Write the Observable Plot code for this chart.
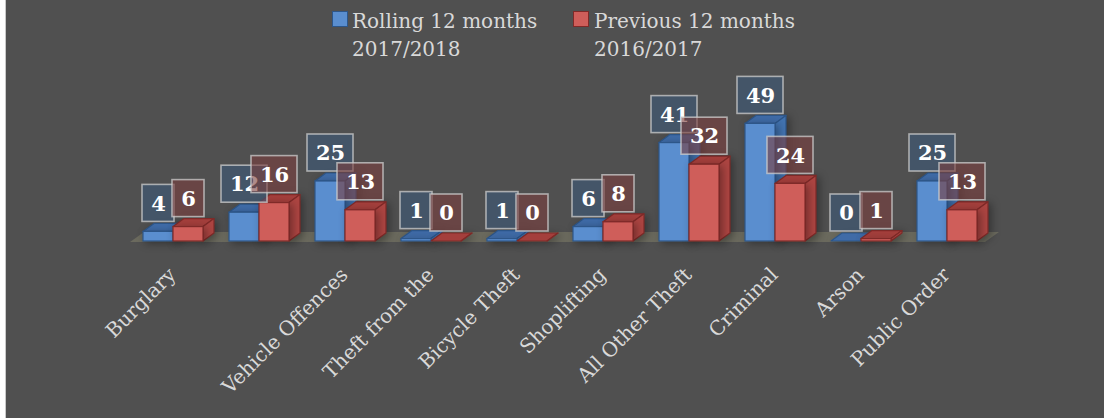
<!DOCTYPE html>
<html>
<head>
<meta charset="utf-8">
<script src="https://cdn.jsdelivr.net/npm/d3@7"></script>
<script src="https://cdn.jsdelivr.net/npm/@observablehq/plot@0.6"></script>
<style>
  html, body { margin: 0; padding: 0; background: #ffffff; }
  #wrap { position: absolute; left: 5px; top: 0; width: 1098px; height: 418px; background: #505050; border-left: 1px solid #c9c9c9; overflow: hidden; }
  .leg { position: absolute; top: 7px; font-family: "DejaVu Serif", serif; font-size: 20px; line-height: 28px; color: #d9d9d9; }
  .sw { position: absolute; top: 11px; width: 16px; height: 16px; box-sizing: border-box; border: 1.5px solid; }
  #chart { position: absolute; left: 0; top: 0; }
</style>
</head>
<body>
<div id="wrap">
  <div id="chart"></div>
</div>
<script>
// ---- data ----
const categories = ["Burglary", " ", "Vehicle Offences", "Theft from the", "Bicycle Theft", "Shoplifting", "All Other Theft", "Criminal", "Arson", "Public Order"];
const rolling = [4, 12, 25, 1, 1, 6, 41, 49, 0, 25];
const previous = [6, 16, 13, 0, 0, 8, 32, 24, 1, 13];
const seriesNames = ["Rolling 12 months\n2017/2018", "Previous 12 months\n2016/2017"];

// ---- styles ----
const BLUE = {front: "#5a8ecf", top: "#3f6ba7", side: "#4273b0", stroke: "#2d5689", box: "rgba(62,88,120,0.62)"};
const RED = {front: "#cf5e5a", top: "#a43f3c", side: "#ad4542", stroke: "#7f2a28", box: "rgba(122,62,62,0.6)"};
const DX = 11, DY = -8;          // 3D depth offset (pixels)
const BAR_W = 30;                // front face width
const FONT = "DejaVu Serif";

const rowsBlue = categories.map((c, i) => ({cat: c, v: rolling[i]}));
const rowsRed = categories.map((c, i) => ({cat: c, v: previous[i]}));

// legend (HTML, above the svg)
const wrap = document.getElementById("wrap");
[[BLUE, 326, 346, seriesNames[0]], [RED, 567, 588, seriesNames[1]]].forEach(([col, sx, tx, name]) => {
  const sw = document.createElement("div");
  sw.className = "sw";
  sw.style.left = sx + "px";
  sw.style.background = col.front;
  sw.style.borderColor = col.stroke;
  wrap.appendChild(sw);
  const t = document.createElement("div");
  t.className = "leg";
  t.style.left = tx + "px";
  t.innerHTML = name.split("\n").join("<br>");
  wrap.appendChild(t);
});

function offsetLeft(isBlue) { return isBlue ? 13 : 43; }

// 3D top & side faces, drawn through the plot's scales
function faces(rows, col, isBlue) {
  return function (index, scales) {
    const x = scales.x, y = scales.y;
    const g = d3.create("svg:g").attr("class", "bar3d").attr("stroke", col.stroke).attr("stroke-width", 1.2).attr("stroke-linejoin", "round");
    for (const d of rows) {
      const x0 = x(d.cat) + offsetLeft(isBlue), x1 = x0 + BAR_W;
      const yt = y(d.v), yb = y(0);
      g.append("path").attr("fill", col.top)
        .attr("d", `M${x0},${yt}L${x1},${yt}L${x1 + DX},${yt + DY}L${x0 + DX},${yt + DY}Z`);
      g.append("path").attr("fill", col.side)
        .attr("d", `M${x1},${yt}L${x1 + DX},${yt + DY}L${x1 + DX},${yb + DY}L${x1},${yb}Z`);
    }
    return g.node();
  };
}

// floor plane
function floor(index, scales) {
  const x = scales.x, y = scales.y;
  const [r0, r1] = x.range();
  const yb = y(0) + 1;
  const g = d3.create("svg:g");
  g.append("path").attr("fill", "#6b6a5e")
    .attr("d", `M${r0},${yb}L${r1 - 5},${yb}L${r1 - 5 + 14},${yb - 10}L${r0 + 14},${yb - 10}Z`);
  return g.node();
}

// data-label boxes
function boxes(rows, col, isBlue) {
  return function (index, scales) {
    const x = scales.x, y = scales.y;
    const g = d3.create("svg:g");
    for (const d of rows) {
      const cx = x(d.cat) + offsetLeft(isBlue) + BAR_W / 2;
      const w = String(d.v).length === 1 ? 32 : 46;
      const yb = y(d.v) - 10;
      g.append("rect").attr("x", cx - w / 2).attr("y", yb - 37).attr("width", w).attr("height", 37)
        .attr("fill", col.box).attr("stroke", "rgba(205,205,205,0.75)").attr("stroke-width", 1.6);
    }
    return g.node();
  };
}

const chart = Plot.plot({
  width: 1098,
  height: 418,
  marginLeft: 124,
  marginRight: 114,
  marginTop: 97,
  marginBottom: 177,
  style: {background: "transparent", overflow: "visible"},
  x: {type: "band", domain: categories, range: [124, 984], padding: 0, axis: null},
  y: {domain: [0, 60], range: [241, 97], axis: null},
  marks: [
    floor,
    faces(rowsBlue, BLUE, true),
    Plot.barY(rowsBlue, {x: "cat", y: "v", insetLeft: 13, insetRight: 43, fill: BLUE.front, stroke: BLUE.stroke, strokeWidth: 1.2}),
    faces(rowsRed, RED, false),
    Plot.barY(rowsRed, {x: "cat", y: "v", insetLeft: 43, insetRight: 13, fill: RED.front, stroke: RED.stroke, strokeWidth: 1.2}),
    boxes(rowsBlue, BLUE, true),
    Plot.text(rowsBlue, {x: "cat", y: "v", text: d => String(d.v), dx: -15, dy: -28, fill: "#ffffff", fontFamily: FONT, fontWeight: "bold", fontSize: 21}),
    boxes(rowsRed, RED, false),
    Plot.text(rowsRed, {x: "cat", y: "v", text: d => String(d.v), dx: 15, dy: -28, fill: "#ffffff", fontFamily: FONT, fontWeight: "bold", fontSize: 21}),
    Plot.text(categories, {x: d => d, y: () => 0, text: d => d, rotate: -45, textAnchor: "end", dx: -1, dy: 30, fill: "#d9d9d9", fontFamily: FONT, fontSize: 20})
  ]
});
// soft shadow behind the 3D bars
chart.querySelectorAll("g.bar3d, g[aria-label='bar']").forEach(g => g.style.filter = "drop-shadow(3px 2px 4px rgba(0,0,0,0.35))");
document.getElementById("chart").appendChild(chart);
</script>
</body>
</html>
